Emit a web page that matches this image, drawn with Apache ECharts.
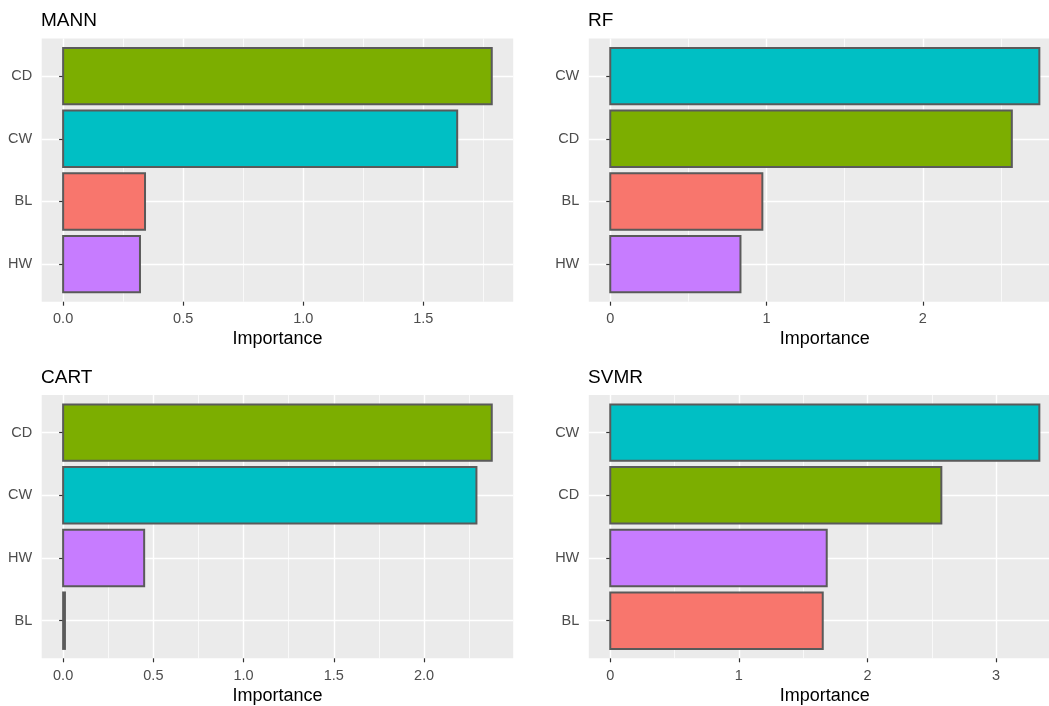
<!DOCTYPE html>
<html>
<head>
<meta charset="utf-8">
<script src="https://cdn.jsdelivr.net/npm/echarts@6/dist/echarts.min.js"></script>
<style>
  html, body { margin: 0; padding: 0; background: #ffffff; }
  #chart { width: 1049px; height: 706px; }
</style>
</head>
<body>
<div id="chart"></div>
<script>
// Variable importance per model (bottom-to-top order of each panel)
const panelTitles = ['MANN', 'RF', 'CART', 'SVMR'];

const mannOrder = ['HW', 'BL', 'CW', 'CD'];
const mannValues = [0.320, 0.341, 1.641, 1.785];

const rfOrder = ['HW', 'BL', 'CD', 'CW'];
const rfValues = [0.833, 0.973, 2.569, 2.745];

const cartOrder = ['BL', 'HW', 'CW', 'CD'];
const cartValues = [0.01, 0.449, 2.290, 2.375];

const svmrOrder = ['BL', 'HW', 'CD', 'CW'];
const svmrValues = [1.652, 1.683, 2.574, 3.336];

// Major and minor x ticks, with their labels
const mannTicks = [0, 0.5, 1, 1.5];
const mannTickLabels = ['0.0', '0.5', '1.0', '1.5'];
const mannMinor = [0.25, 0.75, 1.25, 1.75];

const rfTicks = [0, 1, 2];
const rfTickLabels = ['0', '1', '2'];
const rfMinor = [0.5, 1.5, 2.5];

const cartTicks = [0, 0.5, 1, 1.5, 2];
const cartTickLabels = ['0.0', '0.5', '1.0', '1.5', '2.0'];
const cartMinor = [0.25, 0.75, 1.25, 1.75, 2.25];

const svmrTicks = [0, 1, 2, 3];
const svmrTickLabels = ['0', '1', '2', '3'];
const svmrMinor = [0.5, 1.5, 2.5, 3.5];

const varColors = { BL: '#F8766D', CD: '#7CAE00', CW: '#00BFC4', HW: '#C77CFF' };

const FONT = '"Liberation Sans", Arial, sans-serif';
const panelBg = '#EBEBEB';
const outline = '#5A5A5A';

// Panel boxes: 2 x 2 layout
const boxes = [
  { left: 41.7, top: 38.5, width: 471.5, height: 263.2 },
  { left: 588.8, top: 38.5, width: 472, height: 263.2 },
  { left: 41.7, top: 395, width: 471.5, height: 263.3 },
  { left: 588.8, top: 395, width: 472, height: 263.3 }
];

const panels = [
  { order: mannOrder, values: mannValues, ticks: mannTicks, labels: mannTickLabels, minor: mannMinor },
  { order: rfOrder, values: rfValues, ticks: rfTicks, labels: rfTickLabels, minor: rfMinor },
  { order: cartOrder, values: cartValues, ticks: cartTicks, labels: cartTickLabels, minor: cartMinor },
  { order: svmrOrder, values: svmrValues, ticks: svmrTicks, labels: svmrTickLabels, minor: svmrMinor }
];

const grid = [], xAxis = [], yAxis = [], series = [], title = [];

panels.forEach((p, k) => {
  const b = boxes[k];
  const vmax = Math.max(...p.values);
  const pad = 0.05 * vmax;

  grid.push({
    left: b.left, top: b.top, width: b.width, height: b.height,
    show: true, backgroundColor: panelBg, borderWidth: 0,
    containLabel: false, outerBoundsMode: 'none'
  });

  title.push({
    text: panelTitles[k],
    left: b.left - 0.7, top: b.top - 27,
    padding: 0,
    textStyle: { fontFamily: FONT, fontSize: 19, fontWeight: 'normal', color: '#000000' }
  });

  // main x axis: major grid lines, ticks, labels
  xAxis.push({
    type: 'value', gridIndex: k, position: 'bottom',
    min: -pad, max: vmax + pad,
    name: 'Importance', nameLocation: 'middle', nameGap: 28.5,
    nameTextStyle: { fontFamily: FONT, fontSize: 18, color: '#000000' },
    axisLine: { show: false },
    axisTick: { show: true, length: 4, customValues: p.ticks, lineStyle: { color: '#333333', width: 1.2 } },
    axisLabel: {
      show: true, margin: 10, customValues: p.ticks,
      fontFamily: FONT, fontSize: 14.5, color: '#4D4D4D',
      formatter: (v) => p.labels[p.ticks.indexOf(v)] ?? ''
    },
    splitLine: { show: true, lineStyle: { color: '#FFFFFF', width: 1.4 } }
  });
  // companion x axis: minor grid lines only
  xAxis.push({
    type: 'value', gridIndex: k, position: 'top',
    min: -pad, max: vmax + pad,
    axisLine: { show: false },
    axisTick: { show: false, customValues: p.minor },
    axisLabel: { show: false, customValues: p.minor },
    splitLine: { show: true, lineStyle: { color: '#FFFFFF', width: 0.7 } }
  });

  // discrete y positions 1..4, expanded by 0.6 each side
  yAxis.push({
    type: 'value', gridIndex: k,
    min: 0.4, max: 4.6,
    axisLine: { show: false },
    axisTick: { show: true, length: 4, customValues: [1, 2, 3, 4], lineStyle: { color: '#333333', width: 1.2 } },
    axisLabel: {
      show: true, margin: 9.5, customValues: [1, 2, 3, 4],
      fontFamily: FONT, fontSize: 14.5, color: '#4D4D4D',
      formatter: (v) => p.order[Math.round(v) - 1] ?? ''
    },
    splitLine: { show: true, lineStyle: { color: '#FFFFFF', width: 1.4 } }
  });

  series.push({
    type: 'custom',
    xAxisIndex: 2 * k, yAxisIndex: k,
    data: p.values.map((v, i) => [v, i + 1]),
    encode: { x: 0, y: 1 },
    renderItem: (params, api) => {
      const v = api.value(0);
      const y = api.value(1);
      const a = api.coord([0, y + 0.45]);
      const c = api.coord([v, y - 0.45]);
      return {
        type: 'rect',
        shape: { x: a[0], y: a[1], width: c[0] - a[0], height: c[1] - a[1] },
        style: { fill: varColors[p.order[params.dataIndex]], stroke: outline, lineWidth: 2 }
      };
    }
  });
});

const chart = echarts.init(document.getElementById('chart'), null, { renderer: 'canvas' });
chart.setOption({
  backgroundColor: '#FFFFFF',
  animation: false,
  title, grid, xAxis, yAxis, series
});
</script>
</body>
</html>
